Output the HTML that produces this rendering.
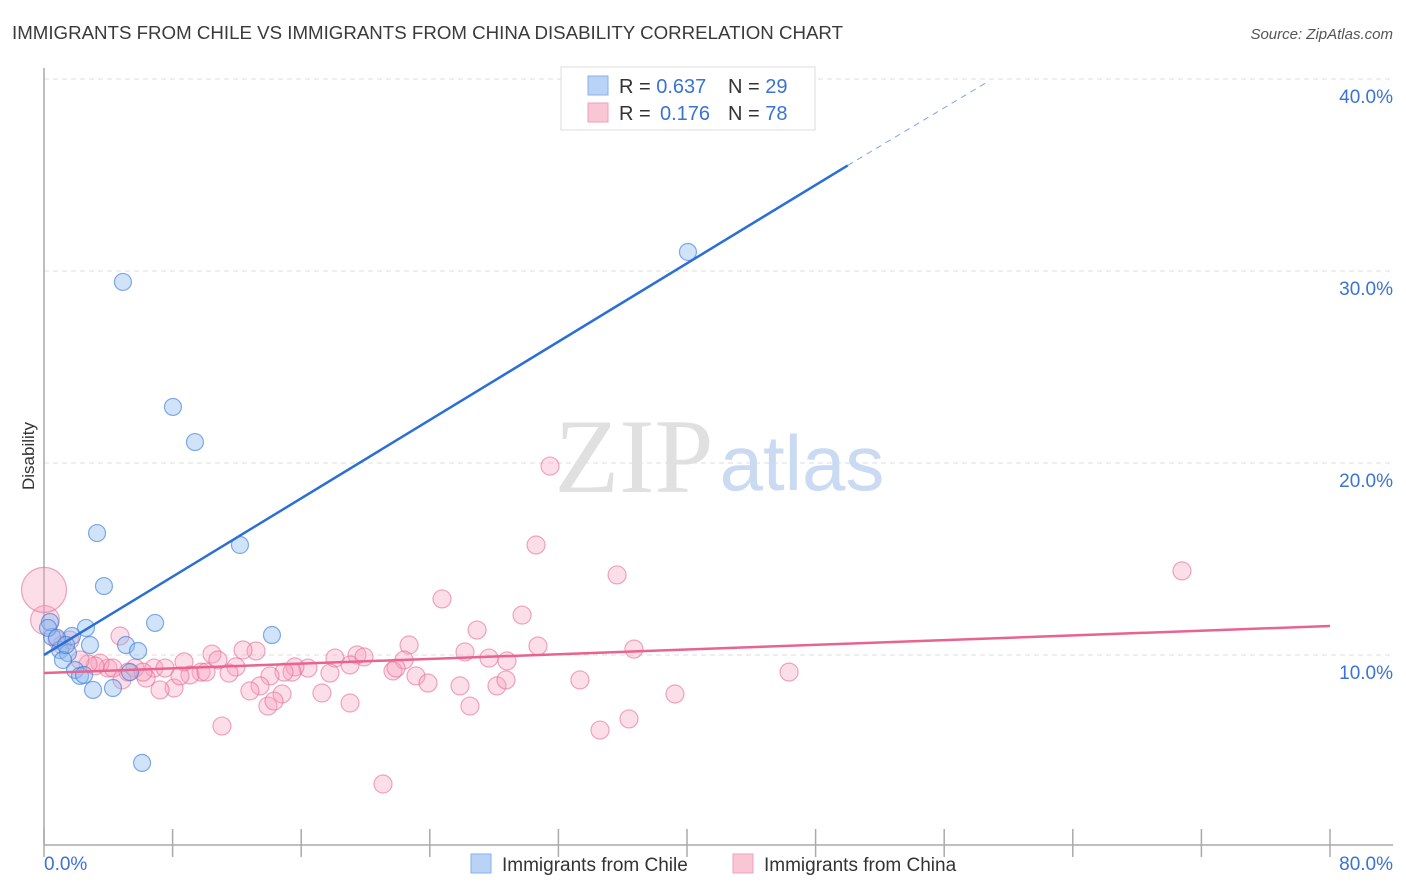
<!DOCTYPE html>
<html><head><meta charset="utf-8">
<style>
body{margin:0;background:#fff;font-family:"Liberation Sans",sans-serif;}
#wrap{position:relative;width:1406px;height:892px;overflow:hidden;}
</style></head>
<body>
<div id="wrap">
<svg id="svg" width="1406" height="892" xmlns="http://www.w3.org/2000/svg">
<text x="12" y="39" font-size="18" textLength="831" lengthAdjust="spacingAndGlyphs" fill="#3a3a3a">IMMIGRANTS FROM CHILE VS IMMIGRANTS FROM CHINA DISABILITY CORRELATION CHART</text>
<text x="1393" y="39" font-size="15" fill="#555" font-style="italic" text-anchor="end">Source: ZipAtlas.com</text>
<text x="34" y="456" font-size="17" fill="#333" text-anchor="middle" transform="rotate(-90 34 456)">Disability</text>
<g id="grid"></g>
<g><text x="634" y="492" font-size="106" fill="#e0e0e0" font-family="Liberation Serif,serif" text-anchor="middle">ZIP</text><text x="802" y="490" font-size="78" fill="#c9daf2" text-anchor="middle">atlas</text></g>
<g id="pts"></g>
<g id="lines"></g>
<g>
<rect x="561" y="67" width="254" height="63" fill="#fff" stroke="#ddd"/>
<rect x="588" y="76" width="20" height="19" fill="#b8d3f5" stroke="#8ab2e8"/>
<rect x="588" y="103" width="20" height="19" fill="#f9c6d6" stroke="#f0a0ba"/>
<text x="619" y="93" font-size="20" fill="#333">R = <tspan fill="#3a72d6">0.637</tspan><tspan x="728">N = </tspan><tspan fill="#3a72d6">29</tspan></text>
<text x="619" y="120" font-size="20" fill="#333">R = <tspan x="660" fill="#3a72d6">0.176</tspan><tspan x="728">N = </tspan><tspan fill="#3a72d6">78</tspan></text>
</g>
<g>
<rect x="471" y="854" width="20" height="19" fill="#b8d3f5" stroke="#8ab2e8"/>
<text x="502" y="871" font-size="19" fill="#333">Immigrants from Chile</text>
<rect x="733" y="854" width="20" height="19" fill="#f9c6d6" stroke="#f0a0ba"/>
<text x="764" y="871" font-size="19" fill="#333">Immigrants from China</text>
</g>
</svg>
</div>
<script>
const xTicks=[0,8,16,24,32,40,48,56,64,72,80];
const yTicks=[10,20,30,40];
const yTickLabels=["10.0%","20.0%","30.0%","40.0%"];
const xEndLabels=["0.0%","80.0%"];
const chileX=[4.91,8.02,9.39,3.30,12.19,3.73,6.91,2.61,14.18,5.10,5.85,0.50,0.37,1.74,2.86,1.00,1.49,1.18,1.93,2.24,3.05,4.29,6.10,40.06,5.35,0.25,0.81,1.37,2.49];
const chileY=[29.43,22.92,21.09,16.35,15.73,13.59,11.67,11.41,11.04,10.52,10.21,10.94,11.72,10.99,10.52,10.26,10.10,9.74,9.22,8.91,8.18,8.28,4.38,30.99,9.11,11.41,10.89,10.52,8.96];
const chinaX=[31.48,30.61,35.65,70.79,24.76,29.74,26.94,22.71,30.73,36.70,26.19,27.68,28.80,19.47,18.10,19.91,22.40,21.71,21.90,23.14,23.89,25.88,28.18,28.74,33.34,39.25,46.35,26.50,34.59,36.39,21.09,17.29,19.04,16.42,15.61,15.43,14.93,14.06,14.81,13.93,14.31,13.44,12.81,13.19,12.38,11.94,11.51,10.45,10.82,11.07,9.77,9.08,8.71,8.09,7.22,6.84,6.35,5.66,5.23,4.85,4.73,3.98,3.48,3.17,2.74,2.24,1.62,1.12,0.81,7.53,10.08,6.16,4.29,19.04,17.79,8.46,0.06,0.0];
const chinaY=[19.84,15.73,14.17,14.38,12.92,12.08,11.30,10.52,10.47,10.31,10.16,9.84,9.69,10.00,9.84,9.90,9.74,9.17,9.32,8.91,8.54,8.39,8.39,8.70,8.70,7.97,9.11,7.34,6.09,6.67,3.28,8.02,7.50,9.32,9.38,9.11,9.11,8.91,7.97,7.34,7.60,8.39,8.13,10.21,10.26,9.38,9.06,10.05,9.74,6.30,9.11,8.96,9.64,8.28,8.18,9.32,8.80,9.32,9.11,8.70,10.99,9.32,9.58,9.43,9.53,9.74,10.78,10.52,10.78,9.32,9.11,9.11,9.32,9.48,9.06,8.91,11.82,13.39];
const chinaSize=[1,1,1,1,1,1,1,1,1,1,1,1,1,1,1,1,1,1,1,1,1,1,1,1,1,1,1,1,1,1,1,1,1,1,1,1,1,1,1,1,1,1,1,1,1,1,1,1,1,1,1,1,1,1,1,1,1,1,1,1,1,1,1,1,1,1,1,1,1,1,1,1,1,1,1,1,1.6,2.5];
const chileTrend=[[0,10.0],[50,35.5]];
const chileTrendExt=[[50,35.5],[58.8,39.9]];
const chinaTrend=[[0,9.06],[80,11.51]];

const X0=44,X1=1330,Y0=847,PXPCT=19.2;
const sx=v=>X0+(v/80)*(X1-X0);
const sy=v=>Y0-v*PXPCT;
const NS="http://www.w3.org/2000/svg";
function mk(tag,attrs,parent){const e=document.createElementNS(NS,tag);for(const k in attrs)e.setAttribute(k,attrs[k]);parent.appendChild(e);return e;}
const grid=document.getElementById('grid');
yTicks.forEach((t,i)=>{
  const g=mk('line',{x1:X0,x2:1393,y1:sy(t),y2:sy(t),stroke:'#ddd','stroke-dasharray':'5,4'},grid);
  
  
  const tx=mk('text',{x:1393,y:sy(t)+24,'font-size':19,fill:'#3a72d6','text-anchor':'end'},grid);
  tx.textContent=yTickLabels[i];
  
  
});
const ax=mk('line',{x1:X0,x2:X0,y1:68,y2:845,stroke:'#aaa','stroke-width':1.5},grid);


const bx=mk('line',{x1:X0,x2:1393,y1:845,y2:845,stroke:'#aaa','stroke-width':1.5},grid);


xTicks.forEach(v=>{
  const t=mk('line',{x1:sx(v),x2:sx(v),y1:829,y2:857,stroke:'#aaa','stroke-width':1.5},grid);
  
  
});
const l0=mk('text',{x:44,y:870,'font-size':19,fill:'#3a72d6'},grid);l0.textContent=xEndLabels[0];


const l1=mk('text',{x:1393,y:870,'font-size':19,fill:'#3a72d6','text-anchor':'end'},grid);l1.textContent=xEndLabels[1];



const pts=document.getElementById('pts');
chinaX.forEach((x,i)=>{
  const c=mk('circle',{cx:sx(x),cy:sy(chinaY[i]),r:9*chinaSize[i],fill:'rgba(246,160,190,0.35)',stroke:'rgba(230,110,150,0.6)','stroke-width':1.2},pts);
  
  
});
chileX.forEach((x,i)=>{
  const c=mk('circle',{cx:sx(x),cy:sy(chileY[i]),r:8.5,fill:'rgba(140,185,240,0.4)',stroke:'rgba(50,120,220,0.6)','stroke-width':1.2},pts);
  
  
});
const lines=document.getElementById('lines');
const bl=mk('line',{x1:sx(chileTrend[0][0]),y1:sy(chileTrend[0][1]),x2:sx(chileTrend[1][0]),y2:sy(chileTrend[1][1]),stroke:'#2a6fd6','stroke-width':2.5},lines);


const be=mk('line',{x1:sx(chileTrendExt[0][0]),y1:sy(chileTrendExt[0][1]),x2:sx(chileTrendExt[1][0]),y2:sy(chileTrendExt[1][1]),stroke:'#7fa6e0','stroke-width':1,'stroke-dasharray':'6,5'},lines);


const pl=mk('line',{x1:sx(chinaTrend[0][0]),y1:sy(chinaTrend[0][1]),x2:sx(chinaTrend[1][0]),y2:sy(chinaTrend[1][1]),stroke:'#e8648e','stroke-width':2.5},lines);


</script>
</body></html>
